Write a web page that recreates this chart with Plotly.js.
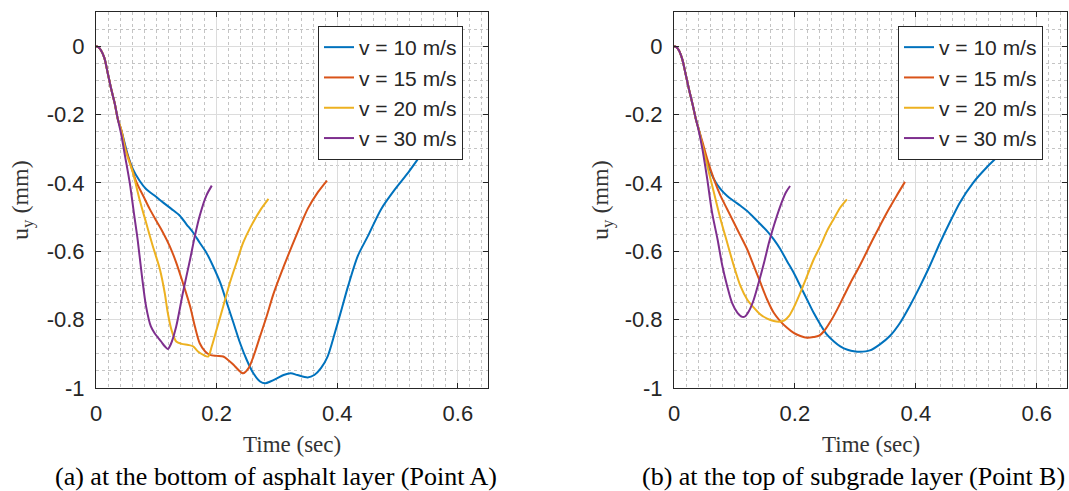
<!DOCTYPE html>
<html>
<head>
<meta charset="utf-8">
<script src="https://cdn.plot.ly/plotly-3.0.1.min.js"></script>
<style>html,body{margin:0;padding:0;background:#fff;}#chart{width:1069px;height:491px;}</style>
</head>
<body>
<div id="chart"></div>
<script>
// ---------- Data ----------
const seriesNames = ["v = 10 m/s", "v = 15 m/s", "v = 20 m/s", "v = 30 m/s"];
const seriesColors = ["#0072BD", "#D95319", "#EDB120", "#7E2F8E"];

const xTickVals = [0, 0.2, 0.4, 0.6];
const xTickText = ["0", "0.2", "0.4", "0.6"];
const yTickVals = [-1, -0.8, -0.6, -0.4, -0.2, 0];
const yTickText = ["-1", "-0.8", "-0.6", "-0.4", "-0.2", "0"];

const captionA = "(a) at the bottom of asphalt layer (Point A)";
const captionB = "(b) at the top of subgrade layer (Point B)";
const xTitle = "Time (sec)";
const yTitle = "u<sub>y</sub> (mm)";

// (a) Point A
const aX10 = [0,0.004,0.008,0.014,0.019,0.025,0.031,0.036,0.042,0.053,0.061,0.072,0.083,0.097,0.111,0.125,0.139,0.150,0.161,0.172,0.183,0.194,0.206,0.217,0.228,0.239,0.250,0.261,0.272,0.281,0.289,0.300,0.311,0.323,0.334,0.351,0.362,0.373,0.384,0.396,0.407,0.418,0.434,0.451,0.473,0.496,0.518,0.540,0.551,0.570];
const aY10 = [0,-0.003,-0.011,-0.035,-0.075,-0.124,-0.167,-0.212,-0.246,-0.320,-0.359,-0.393,-0.418,-0.437,-0.457,-0.476,-0.496,-0.521,-0.545,-0.575,-0.604,-0.643,-0.692,-0.751,-0.810,-0.869,-0.918,-0.957,-0.981,-0.986,-0.981,-0.972,-0.962,-0.957,-0.962,-0.969,-0.962,-0.942,-0.908,-0.839,-0.771,-0.702,-0.614,-0.555,-0.476,-0.418,-0.369,-0.315,-0.290,-0.262];

const aX15 = [0,0.004,0.008,0.014,0.019,0.025,0.031,0.036,0.042,0.049,0.056,0.067,0.078,0.089,0.100,0.111,0.122,0.133,0.144,0.156,0.164,0.172,0.181,0.189,0.200,0.211,0.219,0.228,0.236,0.244,0.253,0.261,0.272,0.283,0.294,0.306,0.333,0.351,0.368,0.383];
const aY15 = [0,-0.003,-0.011,-0.035,-0.075,-0.124,-0.167,-0.212,-0.246,-0.300,-0.339,-0.398,-0.437,-0.476,-0.511,-0.545,-0.584,-0.633,-0.692,-0.761,-0.820,-0.869,-0.893,-0.903,-0.906,-0.908,-0.918,-0.932,-0.947,-0.957,-0.942,-0.908,-0.849,-0.790,-0.726,-0.668,-0.550,-0.476,-0.427,-0.393];

const aX20 = [0,0.004,0.008,0.014,0.019,0.025,0.031,0.036,0.042,0.049,0.061,0.072,0.083,0.094,0.106,0.114,0.119,0.125,0.133,0.142,0.153,0.161,0.169,0.178,0.186,0.192,0.200,0.211,0.222,0.233,0.244,0.256,0.272,0.286];
const aY20 = [0,-0.003,-0.011,-0.035,-0.075,-0.124,-0.167,-0.212,-0.246,-0.305,-0.369,-0.447,-0.516,-0.584,-0.653,-0.722,-0.780,-0.829,-0.864,-0.871,-0.874,-0.878,-0.893,-0.903,-0.908,-0.878,-0.829,-0.761,-0.692,-0.633,-0.575,-0.530,-0.481,-0.447];

const aX30 = [0,0.004,0.008,0.014,0.019,0.025,0.031,0.036,0.042,0.048,0.056,0.063,0.069,0.076,0.083,0.091,0.097,0.108,0.114,0.119,0.124,0.133,0.144,0.156,0.164,0.172,0.183,0.192];
const aY30 = [0,-0.003,-0.011,-0.035,-0.075,-0.124,-0.167,-0.212,-0.260,-0.320,-0.400,-0.490,-0.565,-0.670,-0.761,-0.820,-0.839,-0.864,-0.878,-0.886,-0.872,-0.820,-0.722,-0.624,-0.555,-0.496,-0.437,-0.408];

// (b) Point B
const bX10 = [0,0.004,0.008,0.014,0.019,0.025,0.031,0.036,0.042,0.050,0.058,0.066,0.077,0.088,0.099,0.110,0.121,0.132,0.143,0.154,0.165,0.176,0.187,0.198,0.209,0.220,0.231,0.242,0.253,0.264,0.275,0.287,0.300,0.307,0.324,0.340,0.357,0.374,0.390,0.407,0.423,0.440,0.456,0.473,0.495,0.517,0.539,0.550,0.570];
const bY10 = [0,-0.003,-0.012,-0.040,-0.080,-0.128,-0.172,-0.212,-0.250,-0.311,-0.355,-0.389,-0.418,-0.438,-0.453,-0.467,-0.482,-0.501,-0.521,-0.541,-0.565,-0.594,-0.629,-0.663,-0.702,-0.741,-0.780,-0.814,-0.844,-0.863,-0.878,-0.888,-0.893,-0.894,-0.890,-0.873,-0.848,-0.809,-0.760,-0.702,-0.643,-0.575,-0.516,-0.457,-0.399,-0.355,-0.316,-0.291,-0.262];

const bX15 = [0,0.004,0.008,0.014,0.019,0.025,0.031,0.036,0.042,0.047,0.055,0.066,0.077,0.088,0.099,0.110,0.121,0.132,0.143,0.154,0.165,0.176,0.187,0.198,0.209,0.220,0.231,0.240,0.248,0.259,0.270,0.281,0.292,0.307,0.329,0.352,0.368,0.382];
const bY15 = [0,-0.003,-0.012,-0.040,-0.080,-0.128,-0.172,-0.212,-0.250,-0.280,-0.330,-0.389,-0.438,-0.477,-0.516,-0.555,-0.594,-0.643,-0.692,-0.741,-0.780,-0.805,-0.824,-0.839,-0.848,-0.853,-0.851,-0.847,-0.834,-0.805,-0.770,-0.731,-0.692,-0.643,-0.565,-0.487,-0.438,-0.397];

const bX20 = [0,0.004,0.008,0.014,0.019,0.025,0.031,0.036,0.042,0.046,0.055,0.066,0.077,0.088,0.099,0.110,0.121,0.132,0.143,0.154,0.165,0.174,0.182,0.190,0.198,0.209,0.220,0.231,0.242,0.253,0.264,0.275,0.286];
const bY20 = [0,-0.003,-0.012,-0.040,-0.080,-0.128,-0.172,-0.212,-0.250,-0.282,-0.350,-0.428,-0.506,-0.575,-0.643,-0.702,-0.741,-0.765,-0.785,-0.797,-0.804,-0.806,-0.803,-0.790,-0.765,-0.721,-0.673,-0.624,-0.585,-0.541,-0.506,-0.472,-0.448];

const bX30 = [0,0.004,0.008,0.014,0.019,0.025,0.031,0.036,0.040,0.047,0.055,0.063,0.072,0.080,0.088,0.096,0.105,0.113,0.118,0.124,0.132,0.140,0.149,0.157,0.165,0.176,0.185,0.192];
const bY30 = [0,-0.003,-0.012,-0.040,-0.080,-0.128,-0.172,-0.212,-0.240,-0.301,-0.389,-0.487,-0.565,-0.643,-0.702,-0.751,-0.780,-0.792,-0.790,-0.775,-0.741,-0.692,-0.633,-0.575,-0.526,-0.467,-0.428,-0.409];

// ---------- Build ----------
const aXs = [aX10, aX15, aX20, aX30], aYs = [aY10, aY15, aY20, aY30];
const bXs = [bX10, bX15, bX20, bX30], bYs = [bY10, bY15, bY20, bY30];

const traces = [];
for (let i = 0; i < 4; i++) {
  traces.push({x: aXs[i], y: aYs[i], name: seriesNames[i], type: 'scatter', mode: 'lines',
    line: {color: seriesColors[i], width: 2, shape: 'spline', smoothing: 0.8},
    xaxis: 'x', yaxis: 'y', legend: 'legend'});
}
for (let i = 0; i < 4; i++) {
  traces.push({x: bXs[i], y: bYs[i], name: seriesNames[i], type: 'scatter', mode: 'lines',
    line: {color: seriesColors[i], width: 2, shape: 'spline', smoothing: 0.8},
    xaxis: 'x2', yaxis: 'y2', legend: 'legend2'});
}

const W = 1069, H = 491;
const axCol = '#262626';
const tickFont = {family: 'Arial, "Liberation Sans", sans-serif', size: 22, color: axCol};
const serif = '"Times New Roman", "Liberation Serif", serif';

function xAx(domain) {
  return {domain: domain, range: [0, 0.65], tickmode: 'array', tickvals: xTickVals, ticktext: xTickText,
    ticks: 'inside', ticklen: 5, tickcolor: axCol, showline: true, linecolor: axCol, linewidth: 1,
    mirror: 'ticks', showgrid: true, gridcolor: '#dcdcdc', gridwidth: 1, zeroline: false,
    minor: {tick0: 0, dtick: 0.02, showgrid: true, gridcolor: '#c4c4c4', griddash: 'dot', gridwidth: 1},
    tickfont: tickFont, ticklabelstandoff: 6, fixedrange: true};
}
function yAx(domain, anchor) {
  return {domain: domain, anchor: anchor, range: [-1, 0.1], tickmode: 'array', tickvals: yTickVals, ticktext: yTickText,
    ticks: 'inside', ticklen: 5, tickcolor: axCol, showline: true, linecolor: axCol, linewidth: 1,
    mirror: 'ticks', showgrid: true, gridcolor: '#dcdcdc', gridwidth: 1, zeroline: false,
    minor: {tick0: 0, dtick: 0.05, showgrid: true, gridcolor: '#c4c4c4', griddash: 'dot', gridwidth: 1},
    tickfont: tickFont, ticklabelstandoff: 6, fixedrange: true};
}
const yDom = [1 - 388 / H, 1 - 12 / H];

function legendAt(xpx) {
  return {x: xpx / W, y: 1 - 26 / H, xanchor: 'left', yanchor: 'top', bgcolor: '#ffffff',
    bordercolor: axCol, borderwidth: 1, font: {family: 'Arial, "Liberation Sans", sans-serif', size: 21, color: axCol},
    itemwidth: 30, tracegroupgap: 0};
}

const layout = {
  width: W, height: H, margin: {l: 0, r: 0, t: 0, b: 0},
  paper_bgcolor: '#ffffff', plot_bgcolor: '#ffffff', showlegend: true,
  xaxis: Object.assign(xAx([96 / W, 488 / W]), {anchor: 'y'}),
  yaxis: yAx(yDom, 'x'),
  xaxis2: Object.assign(xAx([674 / W, 1067 / W]), {anchor: 'y2'}),
  yaxis2: yAx(yDom, 'x2'),
  legend: legendAt(318),
  legend2: legendAt(898),
  annotations: [
    {text: xTitle, xref: 'x domain', yref: 'paper', x: 0.5, y: 1 - 444 / H, showarrow: false,
     xanchor: 'center', yanchor: 'middle', font: {family: serif, size: 23, color: '#333333'}},
    {text: xTitle, xref: 'x2 domain', yref: 'paper', x: 0.5, y: 1 - 444 / H, showarrow: false,
     xanchor: 'center', yanchor: 'middle', font: {family: serif, size: 23, color: '#333333'}},
    {text: yTitle, xref: 'paper', yref: 'paper', x: 22 / W, y: 1 - 200 / H, showarrow: false, textangle: -90,
     xanchor: 'center', yanchor: 'middle', font: {family: serif, size: 24, color: '#333333'}},
    {text: yTitle, xref: 'paper', yref: 'paper', x: 602 / W, y: 1 - 200 / H, showarrow: false, textangle: -90,
     xanchor: 'center', yanchor: 'middle', font: {family: serif, size: 24, color: '#333333'}},
    {text: captionA, xref: 'paper', yref: 'paper', x: 276 / W, y: 1 - 476 / H, showarrow: false,
     xanchor: 'center', yanchor: 'middle', font: {family: serif, size: 26, color: '#000000'}},
    {text: captionB, xref: 'paper', yref: 'paper', x: 853 / W, y: 1 - 476 / H, showarrow: false,
     xanchor: 'center', yanchor: 'middle', font: {family: serif, size: 26, color: '#000000'}}
  ]
};

Plotly.newPlot('chart', traces, layout, {staticPlot: true, displayModeBar: false});
</script>
</body>
</html>
